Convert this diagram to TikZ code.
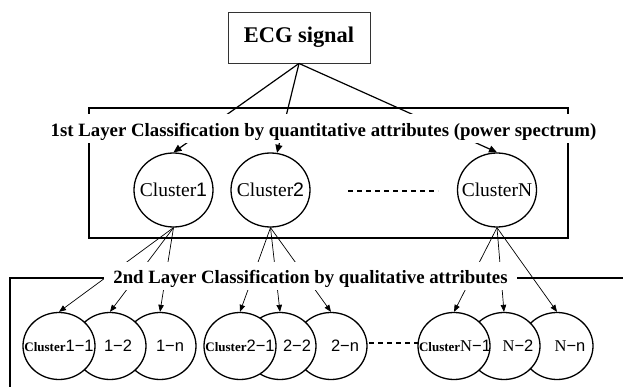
\documentclass[tikz,border=0pt]{standalone}
\usepackage{fontspec}
\setmainfont{Liberation Serif}
\newfontfamily\gothic{Liberation Sans}
\usetikzlibrary{shapes.geometric,arrows.meta}
\begin{document}
\begin{tikzpicture}[x=1pt,y=-1pt,
  bigc/.style={ellipse,draw,line width=1.3pt,fill=white,minimum width=79pt,minimum height=74pt,inner sep=0pt},
  smallc/.style={ellipse,draw,line width=1.3pt,fill=white,minimum width=72pt,minimum height=67pt,inner sep=0pt},
  bigtxt/.style={inner sep=0pt,font=\fontsize{19.5}{19.5}\selectfont},
  smalltxt/.style={inner sep=0pt,font=\fontsize{16.5}{16.5}\selectfont},
  titlebox/.style={fill=white,anchor=base,inner ysep=0pt,inner xsep=9pt,text depth=6.5pt,font=\bfseries\fontsize{18.8}{18.8}\selectfont},
  conn/.style={line width=1.2pt,-{Triangle[length=8pt,width=7pt]}},
  sub/.style={line width=0.7pt,-{Triangle[length=7pt,width=5.5pt]}},
  frame/.style={line width=1.4pt},
  dotline/.style={line width=1.3pt,dash pattern=on 5pt off 4pt}]
\useasboundingbox (0,0) rectangle (623,387);

% brackets
\draw[frame] (89,114) -- (89,108) -- (568,108) -- (568,114);
\draw[frame] (89,143) -- (89,238) -- (568,238) -- (568,143);
\draw[frame] (10,387) -- (10,278) -- (623,278);

% ECG box
\node[draw=black!80,line width=0.9pt,minimum width=142pt,minimum height=51pt,inner sep=0pt,
      font=\bfseries\fontsize{22.4}{22.4}\selectfont] (ecg) at (299,37.5) {ECG signal};

% first layer clusters
\node[bigc] (c1) at (173.5,190) {};
\node[bigc] (c2) at (270.5,190) {};
\node[bigc] (cN) at (497,190) {};
\node[bigtxt] (tc1) at (c1) {Cluster{\gothic 1}};
\node[bigtxt] (tc2) at (c2) {Cluster{\gothic 2}};
\node[bigtxt] (tcN) at (cN) {ClusterN};

\coordinate (da) at (348,191);
\coordinate (db) at (438,191);
\draw[dotline] (da) -- (db);

% second layer clusters (drawn right to left so the left circle is in front)
\node[smallc] (l1n) at (160,346) {};
\node[smallc] (l12) at (110,346) {};
\node[smallc] (l11) at (59,346) {};
\node[smallc] (l2n) at (331,346) {};
\node[smallc] (l22) at (280,346) {};
\node[smallc] (l21) at (240,346) {};
\node[smallc] (lNn) at (557,346) {};
\node[smallc] (lN2) at (504,346) {};
\node[smallc] (lN1) at (454,346) {};

\node[smalltxt] (t11) at (59,346) {{\bfseries\fontsize{13}{13}\selectfont Cluster}{\gothic 1−1}};
\node[smalltxt] (t12) at (118,346) {{\gothic 1−2}};
\node[smalltxt] (t1n) at (170,346) {{\gothic 1−n}};
\node[smalltxt] (t21) at (240,346) {{\bfseries\fontsize{13}{13}\selectfont Cluster}{\gothic 2−1}};
\node[smalltxt] (t22) at (297,346) {{\gothic 2−2}};
\node[smalltxt] (t2n) at (345,346) {{\gothic 2−n}};
\node[smalltxt] (tN1) at (455,346) {{\bfseries\fontsize{13}{13}\selectfont Cluster}N{\gothic −1}};
\node[smalltxt] (tN2) at (518,346) {N{\gothic −2}};
\node[smalltxt] (tNn) at (570,346) {N{\gothic −n}};

\coordinate (ea) at (369,343);
\coordinate (eb) at (418,343);
\draw[dotline] (ea) -- (eb);

% connectors
\draw[conn] (ecg.south) -- (c1.north);
\draw[conn] (ecg.south) -- (c2.80);
\draw[conn] (ecg.south) -- (cN.north);

\draw[sub] (c1.south) -- (l11.north);
\draw[sub] (c1.south) -- (l12.north);
\draw[sub] (c1.south) -- (l1n.north);
\draw[sub] (c2.south) -- (l21.north);
\draw[sub] (c2.south) -- (l22.north);
\draw[sub] (c2.south) -- (l2n.north);
\draw[sub] (cN.south) -- (lN1.north);
\draw[sub] (cN.south) -- (lN2.north);
\draw[sub] (cN.south) -- (lNn.north);

% titles
\node[titlebox,text height=22.5pt] (title1) at (323.5,136.5) {1st Layer Classification by quantitative attributes (power spectrum)};
\node[titlebox,text height=21.5pt] (title2) at (310.5,283.5) {2nd Layer Classification by qualitative attributes};
\end{tikzpicture}
\end{document}
